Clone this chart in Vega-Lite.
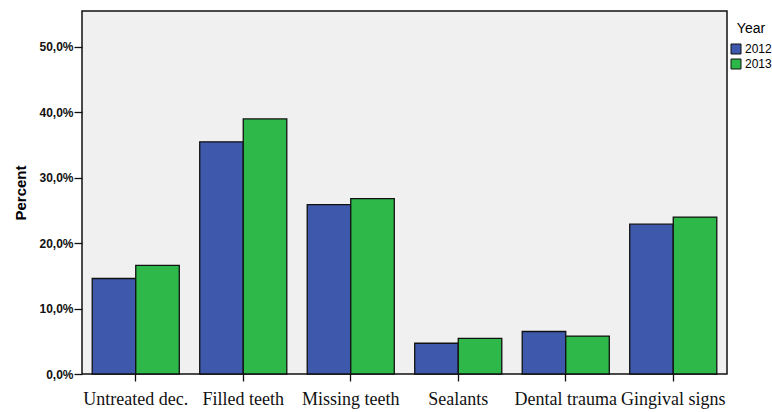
{
  "$schema": "https://vega.github.io/schema/vega-lite/v6.json",
  "width": 645,
  "height": 363,
  "autosize": {"type": "none"},
  "padding": {"left": 82, "top": 11, "right": 45, "bottom": 38},
  "background": "white",
  "config": {
    "view": {"fill": "#f0f0f0", "stroke": "#111", "strokeWidth": 1.5},
    "axis": {"domain": false, "grid": false, "tickColor": "#111", "tickWidth": 1.3, "labelColor": "#111"}
  },
  "data": {
    "values": [
      {"cat": "Untreated dec.", "year": "2012", "pct": 14.6},
      {"cat": "Untreated dec.", "year": "2013", "pct": 16.6},
      {"cat": "Filled teeth", "year": "2012", "pct": 35.5},
      {"cat": "Filled teeth", "year": "2013", "pct": 39.0},
      {"cat": "Missing teeth", "year": "2012", "pct": 25.9},
      {"cat": "Missing teeth", "year": "2013", "pct": 26.8},
      {"cat": "Sealants", "year": "2012", "pct": 4.7},
      {"cat": "Sealants", "year": "2013", "pct": 5.45},
      {"cat": "Dental trauma", "year": "2012", "pct": 6.5},
      {"cat": "Dental trauma", "year": "2013", "pct": 5.8},
      {"cat": "Gingival signs", "year": "2012", "pct": 22.9},
      {"cat": "Gingival signs", "year": "2013", "pct": 24.0}
    ]
  },
  "mark": {"type": "bar", "stroke": "#111", "strokeWidth": 1.3},
  "encoding": {
    "x": {
      "field": "cat", "type": "nominal", "sort": null,
      "scale": {"paddingInner": 0.19, "paddingOuter": 0.095},
      "axis": {"title": null, "labelAngle": 0, "labelFont": "Liberation Serif", "labelFontSize": 18, "tickSize": 7, "labelPadding": 9, "labelOverlap": false, "labelBound": false,
        "labelExpr": "datum.value == 'Gingival signs' ? '\u00a0\u00a0\u00a0\u00a0Gingival signs' : datum.label"}
    },
    "xOffset": {"field": "year", "type": "nominal", "scale": {"paddingInner": 0, "paddingOuter": 0}},
    "y": {
      "field": "pct", "type": "quantitative",
      "scale": {"domain": [0, 55.5], "nice": false},
      "axis": {
        "values": [0, 10, 20, 30, 40, 50],
        "labelExpr": "replace(format(datum.value, '.1f'), '.', ',') + '%'",
        "labelFont": "Liberation Sans", "labelFontSize": 12, "labelFontWeight": "bold",
        "tickSize": 8, "labelPadding": 1,
        "title": "Percent", "titleFont": "Liberation Sans", "titleFontSize": 15, "titleFontWeight": "bold", "titlePadding": 10
      }
    },
    "color": {
      "field": "year", "type": "nominal",
      "scale": {"domain": ["2012", "2013"], "range": ["#3e58ac", "#2fb84a"]},
      "legend": {
        "title": "Year", "orient": "none", "legendX": 648, "legendY": 11,
        "titleAnchor": "middle",
        "titleFont": "Liberation Sans", "titleFontSize": 14, "titleFontWeight": "normal", "titlePadding": 7,
        "labelFont": "Liberation Sans", "labelFontSize": 12, "labelOffset": 3,
        "symbolType": "square", "symbolSize": 100, "symbolStrokeColor": "#111", "symbolStrokeWidth": 1, "rowPadding": 1,
        "padding": 0
      }
    }
  }
}
